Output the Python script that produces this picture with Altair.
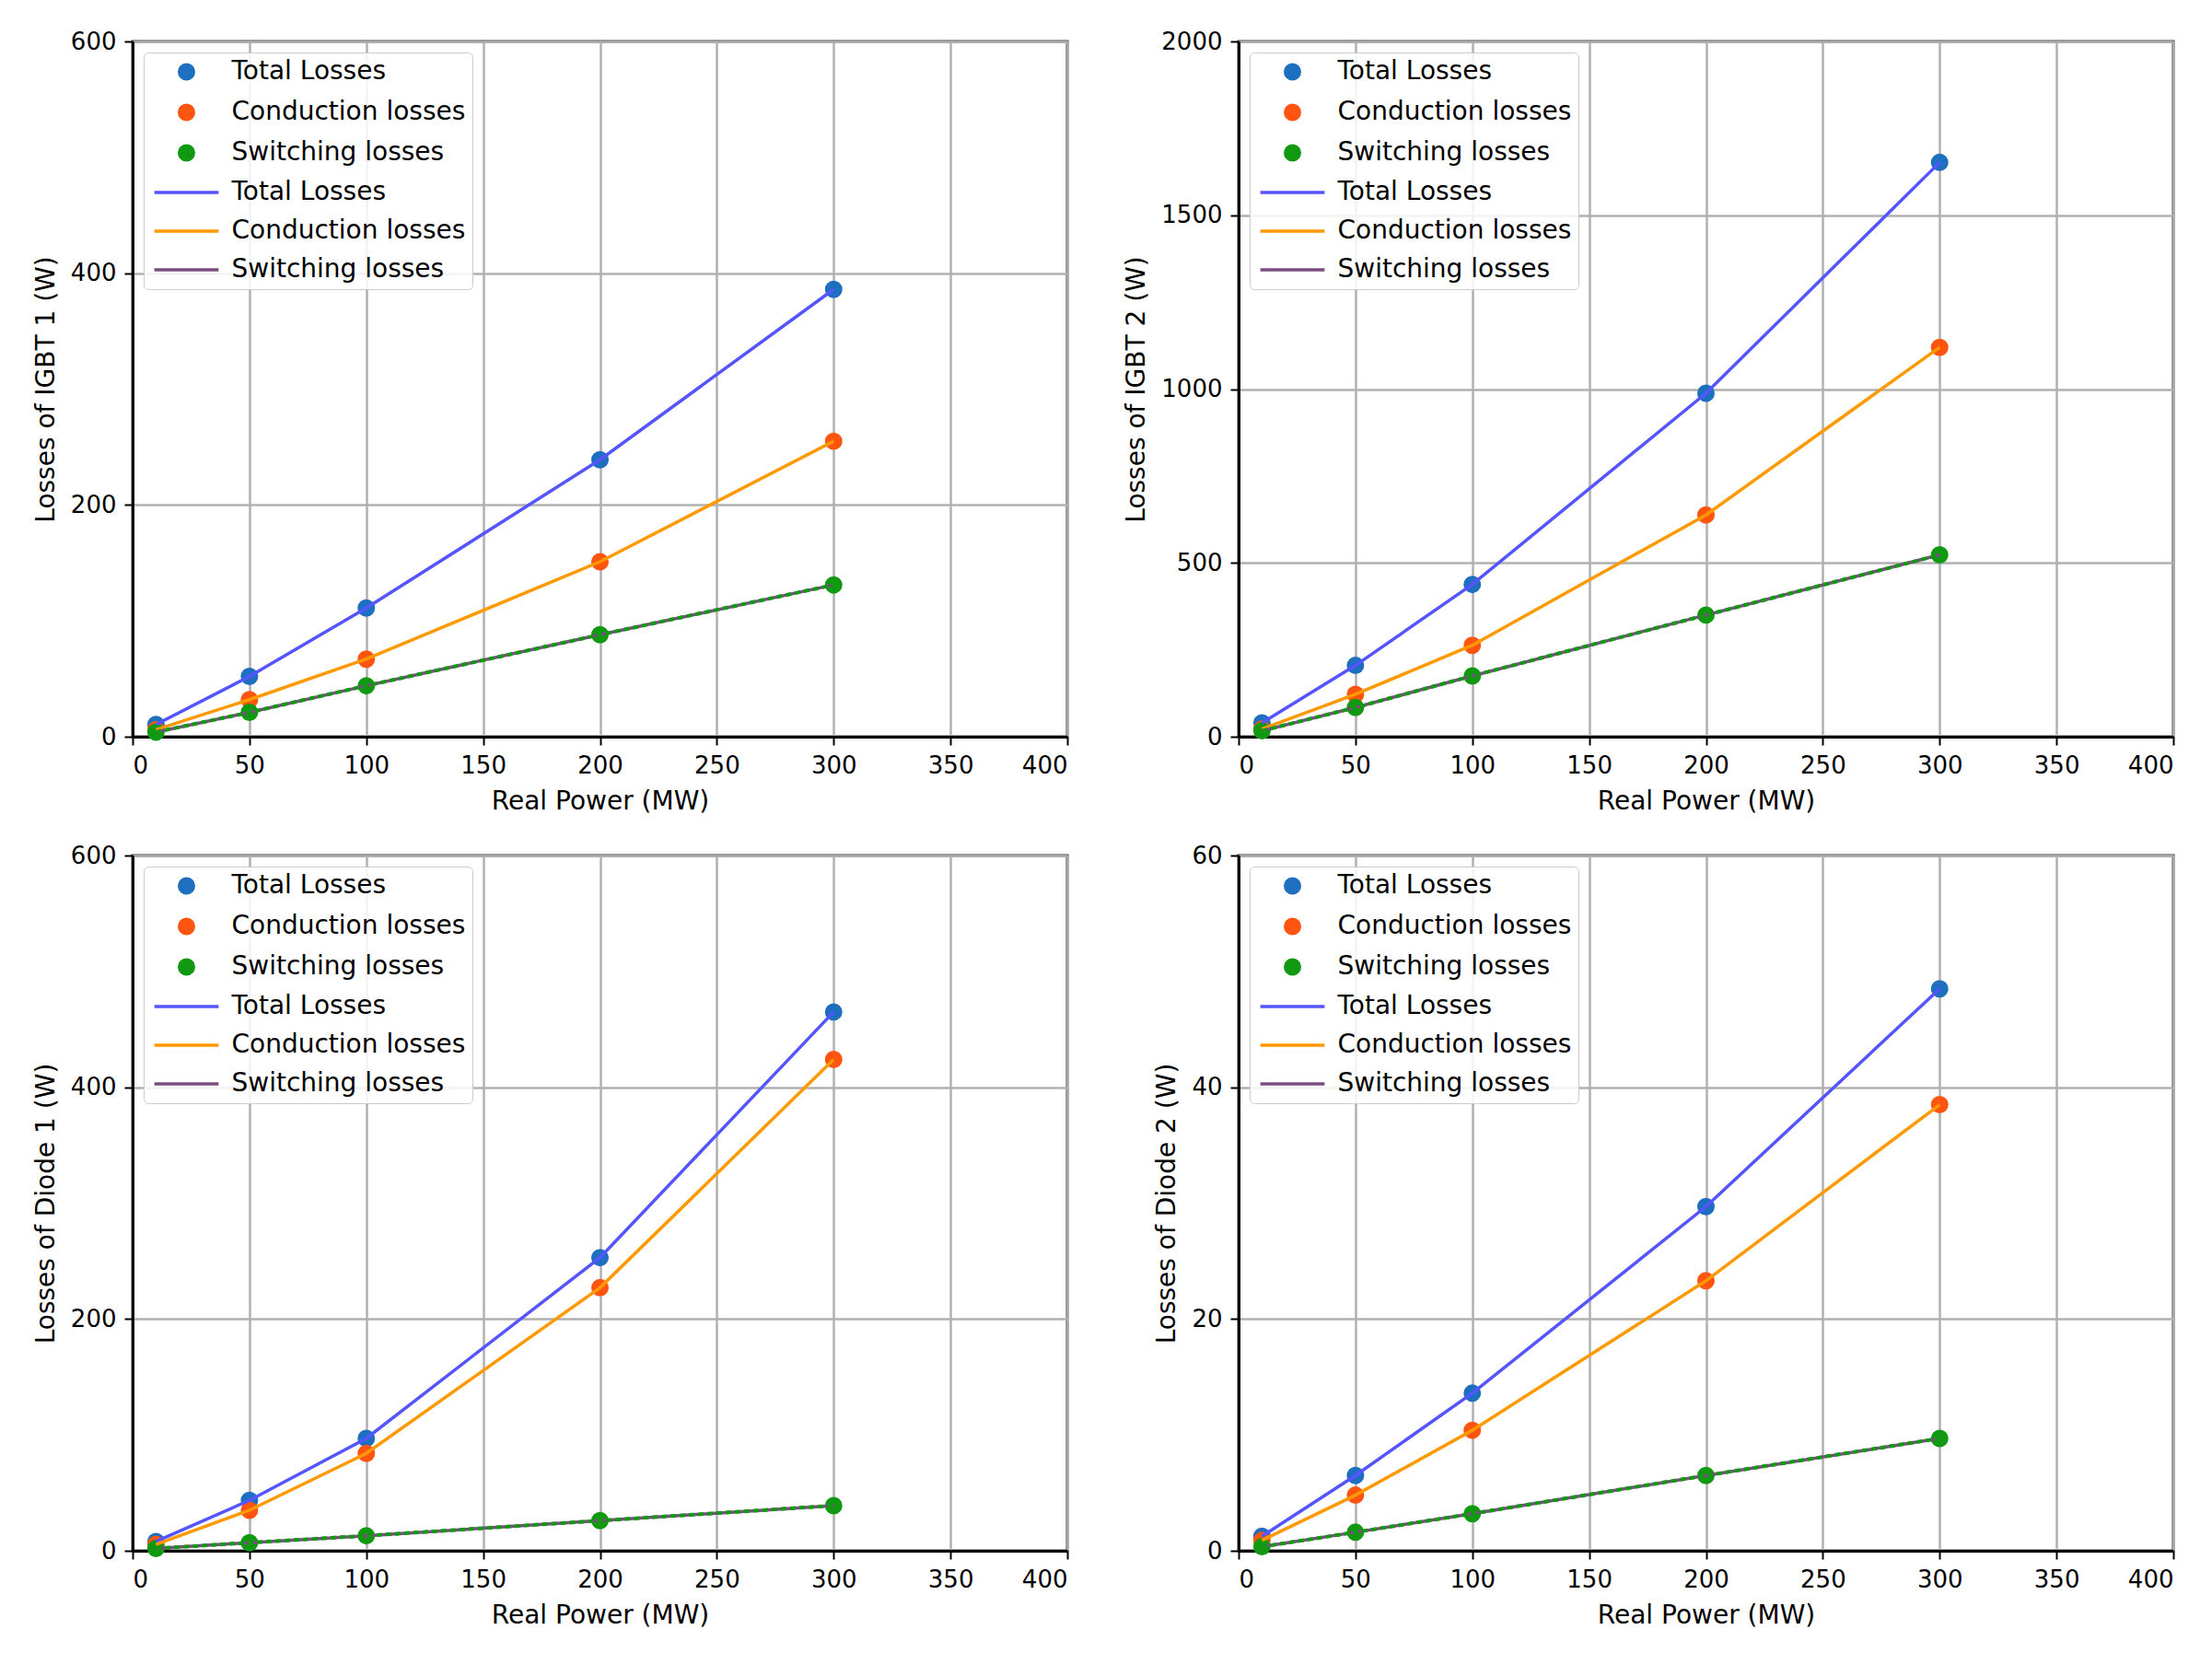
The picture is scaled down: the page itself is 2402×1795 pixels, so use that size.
import altair as alt
import pandas as pd

# ---------------- data ----------------
power_mw = [10, 50, 100, 200, 300]

igbt1_total = [10.5, 52, 111, 239, 386]
igbt1_cond = [6, 32, 67, 151, 255]
igbt1_sw = [4, 21, 44, 88, 131]

igbt2_total = [40, 205, 438, 988, 1652]
igbt2_cond = [22, 122, 263, 638, 1120]
igbt2_sw = [17, 84, 175, 350, 523]

diode1_total = [8, 43.5, 97, 253, 465]
diode1_cond = [5.5, 35, 84, 227, 424]
diode1_sw = [2, 7, 13, 26, 39]

diode2_total = [1.25, 6.5, 13.6, 29.7, 48.5]
diode2_cond = [0.9, 4.8, 10.4, 23.3, 38.5]
diode2_sw = [0.35, 1.6, 3.2, 6.5, 9.7]

series_names = ["Total Losses", "Conduction losses", "Switching losses"]
x_ticks = [0, 50, 100, 150, 200, 250, 300, 350, 400]

panels = [
    ("Losses of IGBT 1 (W)", [igbt1_total, igbt1_cond, igbt1_sw], [0, 600], [0, 200, 400, 600]),
    ("Losses of IGBT 2 (W)", [igbt2_total, igbt2_cond, igbt2_sw], [0, 2000], [0, 500, 1000, 1500, 2000]),
    ("Losses of Diode 1 (W)", [diode1_total, diode1_cond, diode1_sw], [0, 600], [0, 200, 400, 600]),
    ("Losses of Diode 2 (W)", [diode2_total, diode2_cond, diode2_sw], [0, 60], [0, 20, 40, 60]),
]

# ---------------- styling ----------------
point_colors = ["#1f6fc0", "#ff5511", "#119911"]
line_colors = ["#5555ff", "#ff9900", "#7a4c80"]
keys = ["P:" + s for s in series_names] + ["L:" + s for s in series_names]
all_colors = point_colors + line_colors
LINE_SYMBOL = "M-4.5,0H4.5"
shapes = ["circle", "circle", "circle", LINE_SYMBOL, LINE_SYMBOL, LINE_SYMBOL]
PT_SIZE = 240

FONT = "DejaVu Sans"
PW, PH = 1015, 755

legend = alt.Legend(
    title=None,
    orient="top-left",
    offset=12,
    labelExpr="substring(datum.label, 2)",
    labelFont=FONT,
    labelFontSize=28,
    labelColor="black",
    labelOffset=35,
    labelLimit=0,
    symbolSize=PT_SIZE,
    symbolOffset=25.5,
    symbolStrokeWidth=3.5,
    rowPadding=14,
    padding=7,
    strokeColor="#cccccc",
    fillColor="rgba(255,255,255,0.85)",
    cornerRadius=5,
    symbolOpacity=1,
)

fill_scale = alt.Scale(domain=keys, range=all_colors)
stroke_scale = alt.Scale(domain=keys, range=all_colors)
shape_scale = alt.Scale(domain=keys, range=shapes)


def make_panel(ytitle, series, ydom, yticks):
    rows = []
    for name, vals in zip(series_names, series):
        for x, v in zip(power_mw, vals):
            rows.append({"x": x, "y": v, "pkey": "P:" + name, "lkey": "L:" + name, "name": name})
    df = pd.DataFrame(rows)
    base = alt.Chart(df)
    xenc = alt.X("x:Q", scale=alt.Scale(domain=[0, 400], nice=False),
                 axis=alt.Axis(values=x_ticks, title="Real Power (MW)"))
    yenc = alt.Y("y:Q", scale=alt.Scale(domain=ydom, nice=False),
                 axis=alt.Axis(values=yticks, title=ytitle, format="d"))
    pts = base.mark_point(filled=True, opacity=1, strokeWidth=3.5, size=PT_SIZE).encode(
        x=xenc, y=yenc,
        fill=alt.Fill("pkey:N", scale=fill_scale, legend=legend),
        stroke=alt.Stroke("pkey:N", scale=stroke_scale, legend=legend),
        shape=alt.Shape("pkey:N", scale=shape_scale, legend=legend),
    )
    lines = base.mark_line(strokeWidth=3.5).encode(
        x=xenc, y=yenc,
        stroke=alt.Stroke("lkey:N", scale=stroke_scale, legend=legend),
        detail="lkey:N",
    )
    green = base.transform_filter(alt.datum.name == "Switching losses").mark_line(
        strokeWidth=4, strokeDash=[6, 4], color="#119911"
    ).encode(x=xenc, y=yenc)
    return alt.layer(pts, lines, green).properties(width=PW, height=PH)


charts = [make_panel(*p) for p in panels]

chart = alt.concat(*charts, columns=2, spacing={"row": 28, "column": 57}).resolve_scale(
    fill="independent", stroke="independent", shape="independent",
    x="independent", y="independent",
).resolve_legend(
    fill="independent", stroke="independent", shape="independent"
).properties(
    padding={"left": 26, "top": 22, "right": 5, "bottom": 5},
    background="white",
).configure_axis(
    labelFont=FONT, labelFontSize=26, labelColor="black",
    titleFont=FONT, titleFontSize=28, titleColor="black", titleFontWeight="normal",
    tickColor="black", tickSize=9, tickWidth=2,
    domainColor="black", domainWidth=3,
    gridColor="#b0b0b0", gridWidth=2.5,
    labelPadding=9,
).configure_axisY(titlePadding=12).configure_axisX(titlePadding=12).configure_view(
    stroke="#444444", strokeWidth=3
)

chart.save("out.html", embed_options={"renderer": "svg", "actions": False})
